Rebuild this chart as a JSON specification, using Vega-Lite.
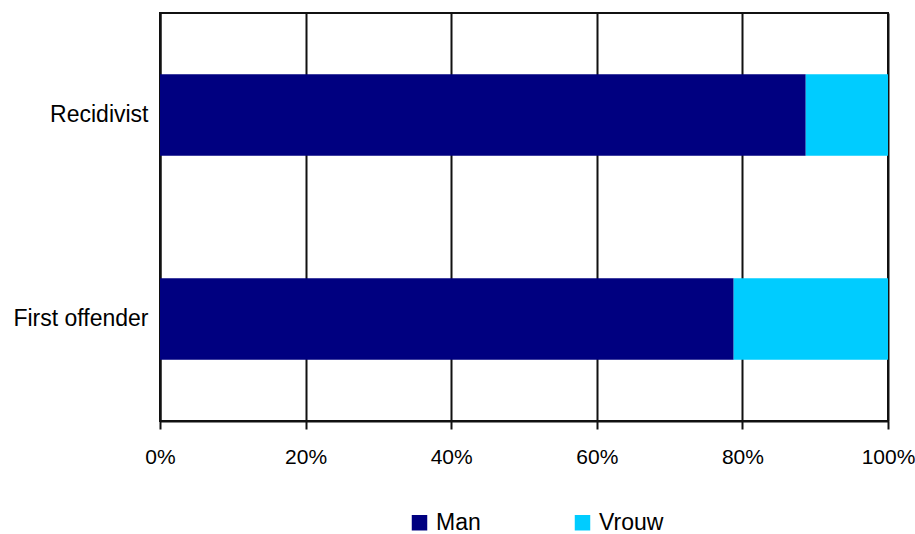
{
  "$schema": "https://vega.github.io/schema/vega-lite/v6.json",
  "autosize": "none",
  "width": 728,
  "height": 408,
  "padding": {"left": 160, "top": 13, "right": 27, "bottom": 113},
  "background": "white",
  "config": {
    "font": "Liberation Sans",
    "view": {"stroke": "#111", "strokeWidth": 2}
  },
  "data": {
    "values": [
      {"group": "Recidivist", "sex": "Man", "value": 88.7},
      {"group": "Recidivist", "sex": "Vrouw", "value": 11.3},
      {"group": "First offender", "sex": "Man", "value": 78.8},
      {"group": "First offender", "sex": "Vrouw", "value": 21.2}
    ]
  },
  "mark": {"type": "bar", "stroke": null},
  "encoding": {
    "y": {
      "field": "group",
      "type": "nominal",
      "sort": ["Recidivist", "First offender"],
      "scale": {"paddingInner": 0.6, "paddingOuter": 0.3},
      "axis": {
        "title": null,
        "ticks": false,
        "labelPadding": 12,
        "labelFontSize": 23,
        "labelColor": "#000",
        "domainColor": "#111",
        "domainWidth": 2
      }
    },
    "x": {
      "field": "value",
      "type": "quantitative",
      "stack": "normalize",
      "scale": {"domain": [0, 1]},
      "axis": {
        "title": null,
        "format": "%",
        "values": [0, 0.2, 0.4, 0.6, 0.8, 1],
        "grid": true,
        "gridColor": "#111",
        "gridWidth": 2,
        "gridOpacity": 1,
        "domainColor": "#111",
        "domainWidth": 2,
        "tickColor": "#111",
        "tickWidth": 2,
        "tickSize": 8,
        "labelPadding": 17,
        "labelFontSize": 21,
        "labelColor": "#000",
        "labelFlush": false
      }
    },
    "color": {
      "field": "sex",
      "type": "nominal",
      "scale": {"domain": ["Man", "Vrouw"], "range": ["#000080", "#00CCFF"]},
      "legend": {
        "title": null,
        "orient": "none",
        "direction": "horizontal",
        "legendX": 248,
        "legendY": 498,
        "symbolType": "square",
        "symbolSize": 240,
        "symbolStrokeWidth": 0,
        "labelFontSize": 23,
        "labelColor": "#000",
        "labelOffset": 5,
        "columnPadding": 90
      }
    }
  }
}
